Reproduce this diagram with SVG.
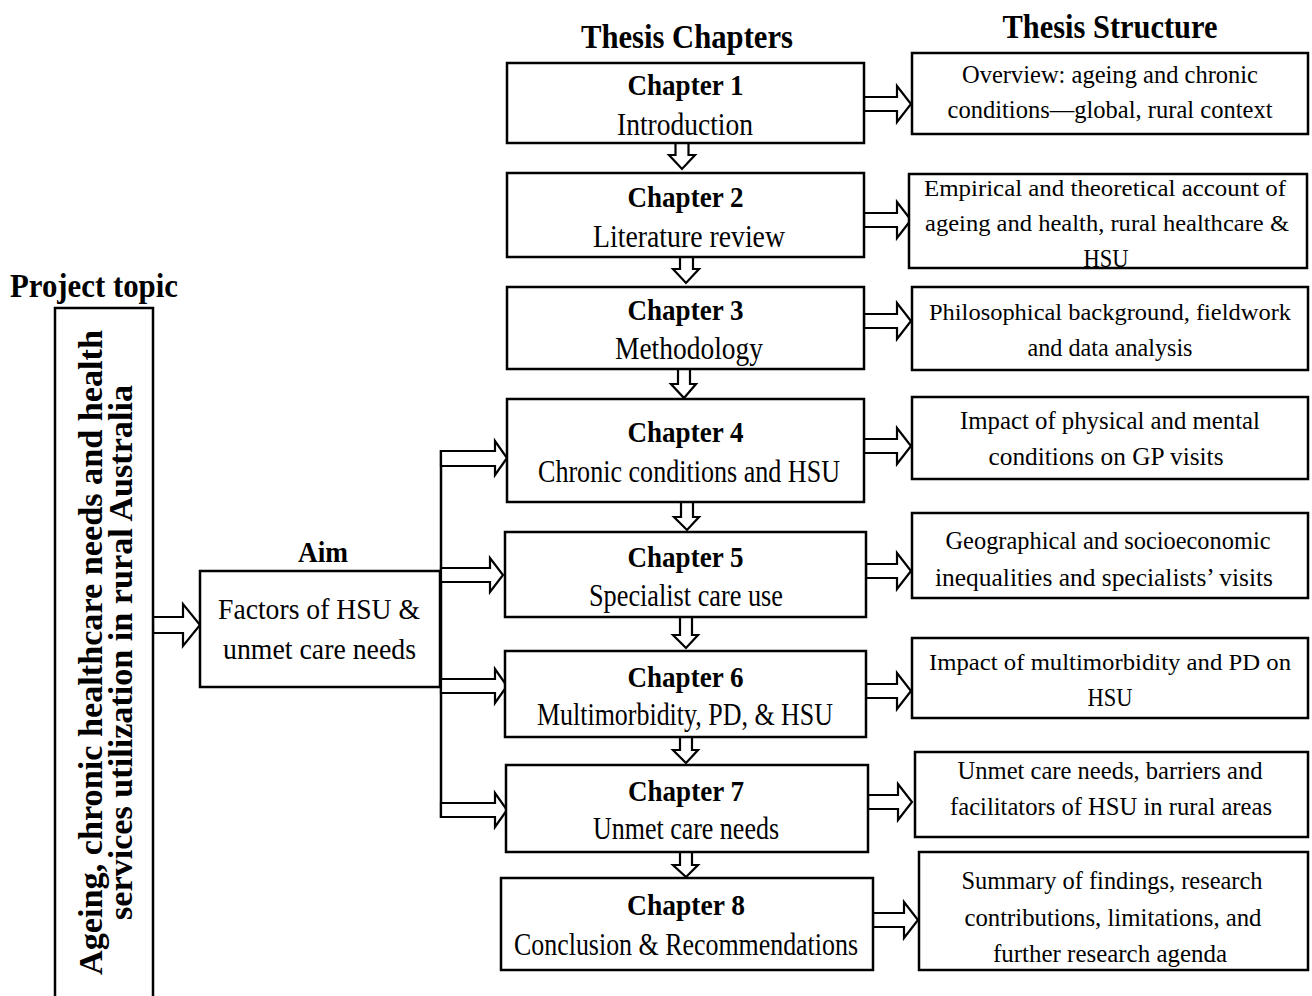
<svg xmlns="http://www.w3.org/2000/svg" width="1312" height="996" viewBox="0 0 1312 996">
<style>
.box{fill:#fff;stroke:#000;stroke-width:2.5}
.arr{fill:#fff;stroke:#000;stroke-width:2.2;stroke-linejoin:miter}
.ln{fill:none;stroke:#000;stroke-width:2.5}
text{font-family:"Liberation Serif","Times New Roman",serif;fill:#000;text-anchor:middle}
.hd{font-size:34px;font-weight:bold}
.ch{font-size:29px;font-weight:bold}
.sub{font-size:31px}
.st{font-size:26px}
.stl{font-size:24px}
.aim{font-size:29px}
.vt{font-size:33px;font-weight:bold}
</style>
<rect width="1312" height="996" fill="#fff"/>

<g id="headers">
<text class="hd" x="687" y="48" textLength="212" lengthAdjust="spacingAndGlyphs">Thesis Chapters</text>
<text class="hd" x="1110" y="38" textLength="215" lengthAdjust="spacingAndGlyphs">Thesis Structure</text>
<text class="hd" x="94" y="297" textLength="168" lengthAdjust="spacingAndGlyphs">Project topic</text>
</g>

<g id="connectors">
<!-- project to aim -->
<polygon class="arr" points="153,617 183,617 183,604 200,625 183,646 183,633 153,633"/>
<!-- aim branch -->
<line class="ln" x1="441" y1="450" x2="441" y2="818"/>
<polygon class="arr" points="441,451 495,451 495,441 507,458 495,475 495,466 441,466"/>
<polygon class="arr" points="441,568 490,568 490,558 503,575 490,592 490,582 441,582"/>
<polygon class="arr" points="441,679 495,679 495,669 507,686 495,703 495,693 441,693"/>
<polygon class="arr" points="441,803 495,803 495,793 507,810 495,827 495,817 441,817"/>
<!-- down arrows -->
<polygon class="arr" points="675.5,143 688.5,143 688.5,155 695,155 682,169 669,155 675.5,155"/>
<polygon class="arr" points="680,257 693,257 693,269 699,269 686,283 673,269 680,269"/>
<polygon class="arr" points="678,369 690,369 690,384 696,384 684,398 671,384 678,384"/>
<polygon class="arr" points="681,502 693,502 693,517 699,517 687,530 674,517 681,517"/>
<polygon class="arr" points="680,617 692,617 692,635 698,635 686,648 673,635 680,635"/>
<polygon class="arr" points="680,737 692,737 692,750 698,750 686,763 673,750 680,750"/>
<polygon class="arr" points="680,852 692,852 692,865 698,865 686,877 673,865 680,865"/>
<!-- right arrows to structure -->
<polygon class="arr" points="864,97 897,97 897,86 911,104 897,122 897,111 864,111"/>
<polygon class="arr" points="864,213 897,213 897,202 911,220 897,238 897,227 864,227"/>
<polygon class="arr" points="864,314 897,314 897,303 911,321 897,339 897,328 864,328"/>
<polygon class="arr" points="864,439 897,439 897,428 911,446 897,464 897,453 864,453"/>
<polygon class="arr" points="866,564 897,564 897,553 911,571 897,589 897,578 866,578"/>
<polygon class="arr" points="866,684 897,684 897,673 911,691 897,709 897,698 866,698"/>
<polygon class="arr" points="868,795 898,795 898,784 912,802 898,820 898,809 868,809"/>
<polygon class="arr" points="873,913 904,913 904,902 918,920 904,938 904,927 873,927"/>
</g>

<g id="project-topic">
<path class="box" d="M55,1002 V308 H153 V1002"/>
<text class="vt" transform="translate(102,652.5) rotate(-90)" textLength="645" lengthAdjust="spacingAndGlyphs">Ageing, chronic healthcare needs and health</text>
<text class="vt" transform="translate(132,652.5) rotate(-90)" textLength="535" lengthAdjust="spacingAndGlyphs">services utilization in rural Australia</text>
</g>

<g id="aim">
<text class="ch" x="323" y="562" textLength="50" lengthAdjust="spacingAndGlyphs">Aim</text>
<rect class="box" x="200" y="571" width="240" height="116"/>
<text class="aim" x="319" y="619" textLength="202" lengthAdjust="spacingAndGlyphs">Factors of HSU &amp;</text>
<text class="aim" x="319.5" y="659" textLength="193" lengthAdjust="spacingAndGlyphs">unmet care needs</text>
</g>

<g id="chapter1">
<rect class="box" x="507" y="63" width="357" height="80"/>
<text class="ch" x="685.5" y="95" textLength="116" lengthAdjust="spacingAndGlyphs">Chapter 1</text>
<text class="sub" x="685" y="135" textLength="136" lengthAdjust="spacingAndGlyphs">Introduction</text>
</g>
<g id="chapter2">
<rect class="box" x="507" y="173" width="357" height="84"/>
<text class="ch" x="685.5" y="207" textLength="116" lengthAdjust="spacingAndGlyphs">Chapter 2</text>
<text class="sub" x="689" y="247" textLength="192" lengthAdjust="spacingAndGlyphs">Literature review</text>
</g>
<g id="chapter3">
<rect class="box" x="507" y="287" width="357" height="82"/>
<text class="ch" x="685.5" y="320" textLength="116" lengthAdjust="spacingAndGlyphs">Chapter 3</text>
<text class="sub" x="689" y="359" textLength="148" lengthAdjust="spacingAndGlyphs">Methodology</text>
</g>
<g id="chapter4">
<rect class="box" x="507" y="399" width="357" height="103"/>
<text class="ch" x="685.5" y="442" textLength="116" lengthAdjust="spacingAndGlyphs">Chapter 4</text>
<text class="sub" x="689" y="482" textLength="302" lengthAdjust="spacingAndGlyphs">Chronic conditions and HSU</text>
</g>
<g id="chapter5">
<rect class="box" x="505" y="532" width="361" height="85"/>
<text class="ch" x="685.5" y="567" textLength="116" lengthAdjust="spacingAndGlyphs">Chapter 5</text>
<text class="sub" x="686" y="606" textLength="194" lengthAdjust="spacingAndGlyphs">Specialist care use</text>
</g>
<g id="chapter6">
<rect class="box" x="505" y="651" width="361" height="86"/>
<text class="ch" x="685.5" y="687" textLength="116" lengthAdjust="spacingAndGlyphs">Chapter 6</text>
<text class="sub" x="685" y="725" textLength="296" lengthAdjust="spacingAndGlyphs">Multimorbidity, PD, &amp; HSU</text>
</g>
<g id="chapter7">
<rect class="box" x="506" y="765" width="362" height="87"/>
<text class="ch" x="686" y="801" textLength="116" lengthAdjust="spacingAndGlyphs">Chapter 7</text>
<text class="sub" x="686" y="839" textLength="186" lengthAdjust="spacingAndGlyphs">Unmet care needs</text>
</g>
<g id="chapter8">
<rect class="box" x="501" y="878" width="372" height="92"/>
<text class="ch" x="686" y="915" textLength="118" lengthAdjust="spacingAndGlyphs">Chapter 8</text>
<text class="sub" x="686" y="955" textLength="344" lengthAdjust="spacingAndGlyphs">Conclusion &amp; Recommendations</text>
</g>

<g id="structure1">
<rect class="box" x="912" y="53" width="396" height="81"/>
<text class="st" x="1110" y="83" textLength="296" lengthAdjust="spacingAndGlyphs">Overview:  ageing and chronic</text>
<text class="st" x="1110" y="118" textLength="325" lengthAdjust="spacingAndGlyphs">conditions—global, rural context</text>
</g>
<g id="structure2">
<rect class="box" x="909" y="174" width="398" height="94"/>
<text class="stl" x="1105" y="196" textLength="362" lengthAdjust="spacingAndGlyphs">Empirical and theoretical account of</text>
<text class="stl" x="1107" y="231" textLength="364" lengthAdjust="spacingAndGlyphs">ageing and health, rural healthcare &amp;</text>
<text class="st" x="1106" y="267" textLength="45" lengthAdjust="spacingAndGlyphs">HSU</text>
</g>
<g id="structure3">
<rect class="box" x="912" y="287" width="396" height="83"/>
<text class="stl" x="1110" y="320" textLength="362" lengthAdjust="spacingAndGlyphs">Philosophical background, fieldwork</text>
<text class="st" x="1110" y="356" textLength="165" lengthAdjust="spacingAndGlyphs">and data analysis</text>
</g>
<g id="structure4">
<rect class="box" x="912" y="397" width="396" height="82"/>
<text class="st" x="1110" y="429" textLength="300" lengthAdjust="spacingAndGlyphs">Impact of physical and mental</text>
<text class="st" x="1106" y="465" textLength="235" lengthAdjust="spacingAndGlyphs">conditions on GP visits</text>
</g>
<g id="structure5">
<rect class="box" x="912" y="513" width="396" height="85"/>
<text class="st" x="1108" y="549" textLength="325" lengthAdjust="spacingAndGlyphs">Geographical and socioeconomic</text>
<text class="st" x="1104" y="586" textLength="338" lengthAdjust="spacingAndGlyphs">inequalities and specialists’ visits</text>
</g>
<g id="structure6">
<rect class="box" x="912" y="638" width="396" height="80"/>
<text class="stl" x="1110" y="670" textLength="362" lengthAdjust="spacingAndGlyphs">Impact of multimorbidity and PD on</text>
<text class="st" x="1110" y="706" textLength="45" lengthAdjust="spacingAndGlyphs">HSU</text>
</g>
<g id="structure7">
<rect class="box" x="915" y="752" width="393" height="85"/>
<text class="st" x="1110" y="779" textLength="305" lengthAdjust="spacingAndGlyphs">Unmet care needs, barriers and</text>
<text class="st" x="1111" y="815" textLength="322" lengthAdjust="spacingAndGlyphs">facilitators of HSU in rural areas</text>
</g>
<g id="structure8">
<rect class="box" x="919" y="852" width="389" height="118"/>
<text class="st" x="1112" y="889" textLength="301" lengthAdjust="spacingAndGlyphs">Summary of findings, research</text>
<text class="st" x="1113" y="926" textLength="297" lengthAdjust="spacingAndGlyphs">contributions, limitations, and</text>
<text class="st" x="1110" y="962" textLength="234" lengthAdjust="spacingAndGlyphs">further research agenda</text>
</g>
</svg>
